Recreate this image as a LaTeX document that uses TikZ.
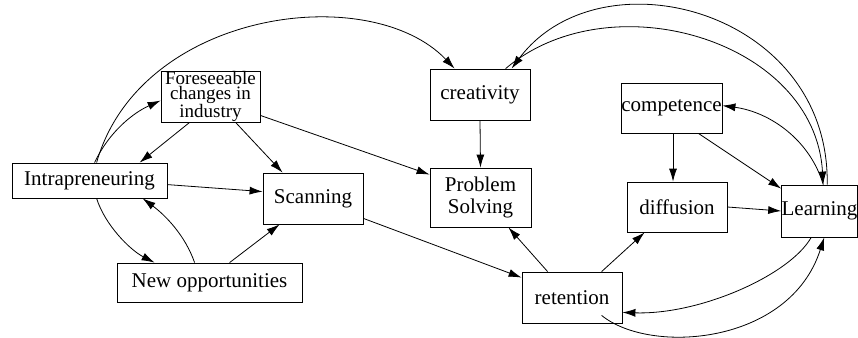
\documentclass[tikz,border=0pt]{standalone}
\usepackage{fontspec}
\setmainfont{Liberation Serif}
\usetikzlibrary{arrows.meta,calc}
\begin{document}
\begin{tikzpicture}[x=1pt,y=-1pt,
  box/.style={draw, line width=0.8pt, inner sep=0pt, align=center, font=\fontsize{21}{22}\selectfont},
  arr/.style={-{Latex[length=13pt,width=8pt]}, line width=0.8pt},
]
\useasboundingbox (0,0) rectangle (858,337);
\node[box, minimum width=99pt, minimum height=51pt, font=\fontsize{19}{15.5}\selectfont] (fore) at (210.5,96.5) {Foreseeable\\changes in\\industry};
\node[box, minimum width=155pt, minimum height=35pt] (intra) at (89.5,180.5) {Intrapreneuring};
\node[box, minimum width=100pt, minimum height=51pt] (scan) at (313,198.5) {Scanning};
\node[box, minimum width=185pt, minimum height=39pt] (newopp) at (209.5,282.5) {New opportunities};
\node[box, minimum width=100pt, minimum height=51pt] (creat) at (480,94.5) {creativity};
\node[box, minimum width=101pt, minimum height=50pt] (comp) at (671.5,108) {competence};
\node[box, minimum width=101pt, minimum height=59pt] (prob) at (480.5,197.5) {Problem\\Solving};
\node[box, minimum width=100pt, minimum height=50pt] (diff) at (677,207) {diffusion};
\node[box, minimum width=75pt, minimum height=52pt] (learn) at (819.5,211) {Learning};
\node[box, minimum width=100pt, minimum height=51pt] (ret) at (572,297.5) {retention};

% left cluster
\draw[arr] ($(intra.north west)+(83,0)$) .. controls (110,130) and (135,112) .. ($(fore.north west)+(0,30)$);
\draw[arr] ($(intra.north west)+(85,0)$) .. controls (140,10) and (370,-20) .. ($(creat.north west)+(25,0)$);
\draw[arr] ($(fore.south west)+(29,0)$) -- ($(intra.north west)+(128,0)$);
\draw[arr] ($(fore.south west)+(75,0)$) -- ($(scan.north west)+(20,0)$);
\draw[arr] ($(fore.south east)+(0,-7)$) -- ($(prob.north west)+(0,7)$);
\draw[arr] ($(intra.north east)+(0,22)$) -- ($(scan.north west)+(0,19)$);
\draw[arr] ($(intra.south west)+(85,0)$) .. controls (105,225) and (130,250) .. ($(newopp.north west)+(38,0)$);
\draw[arr] ($(newopp.north west)+(78,0)$) .. controls (185,235) and (165,215) .. ($(intra.south west)+(131,0)$);
\draw[arr] ($(newopp.north west)+(113,0)$) -- ($(scan.south west)+(17,0)$);
\draw[arr] ($(scan.south east)+(0,-6)$) -- ($(ret.north west)+(0,6)$);

% middle / right cluster
\draw[arr] (creat.south) -- (prob.north);
\draw[arr] ($(ret.north west)+(26,0)$) -- ($(prob.south east)+(-23,0)$);
\draw[arr] ($(ret.north west)+(80,0)$) -- ($(diff.south west)+(18,0)$);
\draw[arr] ($(comp.south)+(1.5,0)$) -- ($(comp.south |- diff.north)+(1.5,0)$);
\draw[arr] ($(comp.south east)+(-24,0)$) -- ($(learn.north west)+(0,4)$);
\draw[arr] (diff.east) -- (learn.west);
\draw[arr] ($(learn.south west)+(30,0)$) .. controls (790,275) and (700,315) .. ($(ret.south east)+(0,-11)$);
\draw[arr] ($(ret.south west)+(80,-8)$) .. controls (650,355) and (790,345) .. ($(learn.south west)+(43,0)$);
\draw[arr] ($(learn.north west)+(42,0)$) .. controls (810,140) and (770,112) .. ($(comp.north east)+(0,23)$);
\draw[arr] ($(learn.north west)+(46,0)$) .. controls (830,10) and (600,-50) .. ($(creat.north west)+(82,0)$);
\draw[arr] ($(creat.north west)+(76,0)$) .. controls (610,-20) and (815,40) .. ($(learn.north west)+(42,0)$);
\end{tikzpicture}
\end{document}
